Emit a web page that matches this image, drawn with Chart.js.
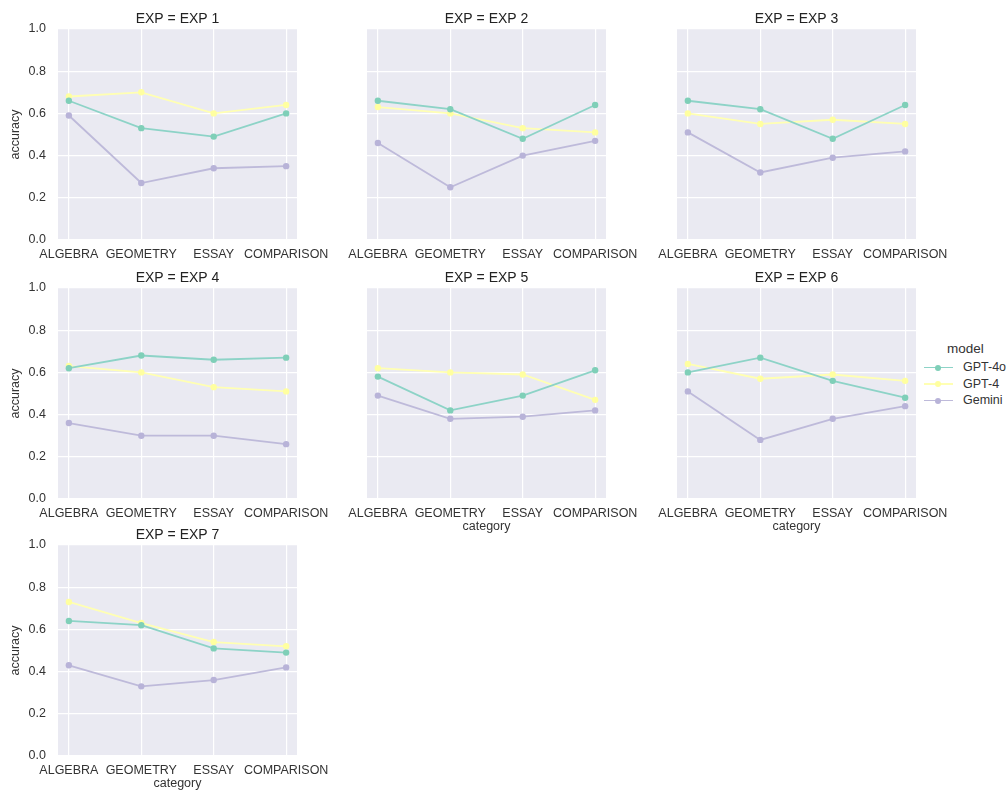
<!DOCTYPE html>
<html>
<head>
<meta charset="utf-8">
<script src="https://cdn.jsdelivr.net/npm/chart.js@4.4.0/dist/chart.umd.min.js"></script>
<style>
    body { margin: 0; background: #fff; font-family: "Liberation Sans", Arial, sans-serif; }
    .page { position: relative; width: 1006px; height: 791px; overflow: hidden; }
    .page canvas { position: absolute; }
    .legend { position: absolute; left: 922px; top: 339px; color: #333; font-size: 12.5px; white-space: nowrap; }
    .legend-title { font-size: 13.5px; margin-left: 25px; height: 20px; line-height: 20px; }
    .legend-item { position: relative; height: 16.5px; line-height: 16.5px; padding-left: 41px; }
    .legend-item .line { position: absolute; left: 2px; top: 7.5px; width: 29px; height: 1.6px; }
    .legend-item .dot { position: absolute; left: 13px; top: 5.5px; width: 6px; height: 6px; border-radius: 50%; }
</style>
</head>
<body>
<div class="page" id="page">
    <div class="legend" id="legend">
        <div class="legend-title">model</div>
    </div>
</div>
<script>
// Data
const experiments = ["EXP 1", "EXP 2", "EXP 3", "EXP 4", "EXP 5", "EXP 6", "EXP 7"];
const categories = ["ALGEBRA", "GEOMETRY", "ESSAY", "COMPARISON"];
const models = ["GPT-4o", "GPT-4", "Gemini"];
const colors = ["#8dd3c7", "#ffffb3", "#bebada"];
const markerColors = ["#7fcfb8", "#ffffa0", "#b8b3d8"];
const yTicks = [0, 0.2, 0.4, 0.6, 0.8, 1.0];

const gpt4oAcc = [
    [0.66, 0.53, 0.49, 0.60],
    [0.66, 0.62, 0.48, 0.64],
    [0.66, 0.62, 0.48, 0.64],
    [0.62, 0.68, 0.66, 0.67],
    [0.58, 0.42, 0.49, 0.61],
    [0.60, 0.67, 0.56, 0.48],
    [0.64, 0.62, 0.51, 0.49]
];
const gpt4Acc = [
    [0.68, 0.70, 0.60, 0.64],
    [0.63, 0.60, 0.53, 0.51],
    [0.60, 0.55, 0.57, 0.55],
    [0.63, 0.60, 0.53, 0.51],
    [0.62, 0.60, 0.59, 0.47],
    [0.64, 0.57, 0.59, 0.56],
    [0.73, 0.63, 0.54, 0.52]
];
const geminiAcc = [
    [0.59, 0.27, 0.34, 0.35],
    [0.46, 0.25, 0.40, 0.47],
    [0.51, 0.32, 0.39, 0.42],
    [0.36, 0.30, 0.30, 0.26],
    [0.49, 0.38, 0.39, 0.42],
    [0.51, 0.28, 0.38, 0.44],
    [0.43, 0.33, 0.36, 0.42]
];
const series = [gpt4oAcc, gpt4Acc, geminiAcc];

Chart.defaults.font.family = '"Liberation Sans", Arial, sans-serif';
Chart.defaults.color = "#333";

// Layout of the grid
const areaLeft = [58, 367, 677];
const areaTop = [29, 288, 545];
const areaW = 239;
const areaH = 211;
const titleBox = 22;
const xAxisH = 45;
const rightPad = 45;

const plotBackground = {
    id: "plotBackground",
    beforeDraw: (chart) => {
        const { ctx, chartArea } = chart;
        ctx.save();
        ctx.fillStyle = "#eaeaf2";
        ctx.fillRect(chartArea.left, chartArea.top, chartArea.right - chartArea.left, chartArea.bottom - chartArea.top);
        ctx.restore();
    }
};

const page = document.getElementById("page");

experiments.forEach((exp, i) => {
    const col = i % 3;
    const row = Math.floor(i / 3);
    const yW = col === 0 ? 58 : 40;
    const canvas = document.createElement("canvas");
    canvas.width = yW + areaW + rightPad;
    canvas.height = titleBox + areaH + xAxisH;
    canvas.style.left = (areaLeft[col] - yW) + "px";
    canvas.style.top = (areaTop[row] - titleBox) + "px";
    page.appendChild(canvas);

    const showXTitle = i >= 4;
    const showY = col === 0;

    new Chart(canvas, {
        type: "line",
        data: {
            datasets: models.map((m, k) => ({
                label: m,
                data: series[k][i].map((v, c) => ({ x: c, y: v })),
                borderColor: colors[k],
                backgroundColor: markerColors[k],
                borderWidth: 1.8,
                pointRadius: 3.2,
                pointBorderWidth: 0,
                pointBackgroundColor: markerColors[k],
                tension: 0
            }))
        },
        options: {
            responsive: false,
            animation: false,
            devicePixelRatio: 1,
            layout: { padding: { left: 0, right: rightPad, top: 0, bottom: 0 } },
            plugins: {
                legend: { display: false },
                tooltip: { enabled: false },
                title: {
                    display: true,
                    text: "EXP = " + exp,
                    fullSize: false,
                    color: "#222",
                    font: { size: 14, weight: "normal" },
                    padding: { top: 3.6, bottom: 1.6 }
                }
            },
            scales: {
                x: {
                    type: "linear",
                    min: -0.15,
                    max: 3.15,
                    afterBuildTicks: (scale) => {
                        scale.ticks = categories.map((c, k) => ({ value: k }));
                    },
                    afterFit: (scale) => { scale.height = xAxisH; },
                    ticks: {
                        autoSkip: false,
                        maxRotation: 0,
                        minRotation: 0,
                        padding: 7.5,
                        color: "#333",
                        font: { size: 12.5 },
                        callback: (v) => categories[v]
                    },
                    grid: { color: "#ffffff", lineWidth: 1.2, drawTicks: false },
                    border: { display: false },
                    title: {
                        display: showXTitle,
                        text: "category",
                        color: "#333",
                        font: { size: 12.5 },
                        padding: { top: 0, bottom: 9.5 }
                    }
                },
                y: {
                    min: 0,
                    max: 1,
                    afterBuildTicks: (scale) => {
                        scale.ticks = yTicks.map(v => ({ value: v }));
                    },
                    afterFit: (scale) => { scale.width = yW; },
                    ticks: {
                        display: showY,
                        padding: 12,
                        color: "#333",
                        font: { size: 12.5 },
                        callback: (v) => v.toFixed(1)
                    },
                    grid: { color: "#ffffff", lineWidth: 1.2, drawTicks: false },
                    border: { display: false },
                    title: {
                        display: showY,
                        text: "accuracy",
                        color: "#333",
                        font: { size: 12.5 },
                        padding: { top: 8.5, bottom: 0 }
                    }
                }
            }
        },
        plugins: [plotBackground]
    });
});

// Legend
const legend = document.getElementById("legend");
models.forEach((m, k) => {
    const item = document.createElement("div");
    item.className = "legend-item";
    item.innerHTML = `<span class="line" style="background:${colors[k]}"></span><span class="dot" style="background:${markerColors[k]}"></span>${m}`;
    legend.appendChild(item);
});
</script>
</body>
</html>
